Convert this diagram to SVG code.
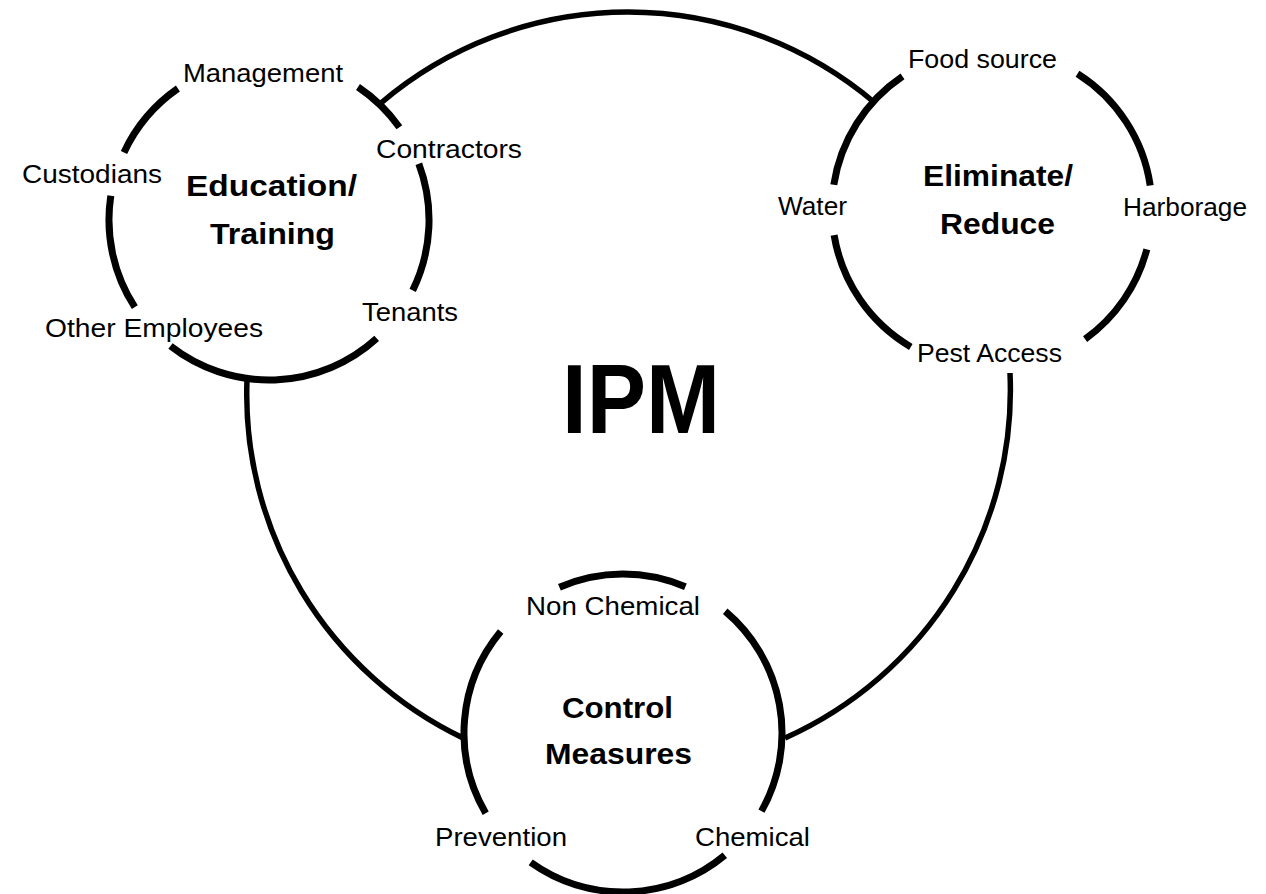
<svg xmlns="http://www.w3.org/2000/svg" width="1266" height="894" viewBox="0 0 1266 894">
  <style>
    .ring { fill: none; stroke: #000; stroke-width: 7; stroke-linecap: butt; }
    .link { fill: none; stroke: #000; stroke-width: 5.5; stroke-linecap: butt; }
    .item { font-family: "Liberation Sans", Arial, sans-serif; font-size: 26px; fill: #000; }
    .title { font-family: "Liberation Sans", Arial, sans-serif; font-size: 29px; font-weight: bold; fill: #000; }
    .main { font-family: "Liberation Sans", Arial, sans-serif; font-size: 98px; font-weight: bold; fill: #000; }
  </style>
  <rect width="1266" height="894" fill="#fff"/>

  <!-- outer IPM ring, drawn as three arcs between the groups -->
  <g id="connectors">
    <path class="link" d="M381,103 A381,381 0 0 1 875,103"/>
    <path class="link" d="M247,380 A381,381 0 0 0 463,738"/>
    <path class="link" d="M1010,373 A381,381 0 0 1 785,738"/>
  </g>

  <text class="main" x="562" y="433" textLength="158" lengthAdjust="spacingAndGlyphs">IPM</text>

  <!-- Education / Training -->
  <g id="education-training">
    <path class="ring" d="M124.0,152.4 A160,160 0 0 1 177.9,88.5"/>
    <path class="ring" d="M358.0,87.0 A160,160 0 0 1 399.4,127.3"/>
    <path class="ring" d="M418.8,163.7 A160,160 0 0 1 412.7,290.4"/>
    <path class="ring" d="M376.7,338.3 A160,160 0 0 1 170.5,346.1"/>
    <path class="ring" d="M134.8,307.1 A160,160 0 0 1 110.8,195.8"/>
    <text class="title" x="186" y="196" textLength="171" lengthAdjust="spacingAndGlyphs">Education/</text>
    <text class="title" x="210" y="244" textLength="125" lengthAdjust="spacingAndGlyphs">Training</text>
    <text class="item" x="183" y="82" textLength="160" lengthAdjust="spacingAndGlyphs">Management</text>
    <text class="item" x="22" y="183" textLength="140" lengthAdjust="spacingAndGlyphs">Custodians</text>
    <text class="item" x="376" y="158" textLength="146" lengthAdjust="spacingAndGlyphs">Contractors</text>
    <text class="item" x="362" y="321" textLength="96" lengthAdjust="spacingAndGlyphs">Tenants</text>
    <text class="item" x="45" y="337" textLength="218" lengthAdjust="spacingAndGlyphs">Other Employees</text>
  </g>

  <!-- Eliminate / Reduce -->
  <g id="eliminate-reduce">
    <path class="ring" d="M1077.5,73.8 A160,160 0 0 1 1150.2,185.4"/>
    <path class="ring" d="M1146.8,249.3 A160,160 0 0 1 1085.1,339.1"/>
    <path class="ring" d="M910.8,346.9 A160,160 0 0 1 834.1,235.1"/>
    <path class="ring" d="M833.8,184.8 A160,160 0 0 1 902.5,76.4"/>
    <text class="title" x="923" y="186" textLength="150" lengthAdjust="spacingAndGlyphs">Eliminate/</text>
    <text class="title" x="940" y="234" textLength="115" lengthAdjust="spacingAndGlyphs">Reduce</text>
    <text class="item" x="908" y="68" textLength="149" lengthAdjust="spacingAndGlyphs">Food source</text>
    <text class="item" x="778" y="215" textLength="69" lengthAdjust="spacingAndGlyphs">Water</text>
    <text class="item" x="1123" y="216" textLength="124" lengthAdjust="spacingAndGlyphs">Harborage</text>
    <text class="item" x="917" y="362" textLength="145" lengthAdjust="spacingAndGlyphs">Pest Access</text>
  </g>

  <!-- Control Measures -->
  <g id="control-measures">
    <path class="ring" d="M559.4,587.3 A159,159 0 0 1 685.4,586.8"/>
    <path class="ring" d="M725.2,611.2 A159,159 0 0 1 761.5,811.1"/>
    <path class="ring" d="M724.8,855.2 A159,159 0 0 1 530.7,862.4"/>
    <path class="ring" d="M485.7,813.2 A159,159 0 0 1 500.7,631.4"/>
    <text class="title" x="562" y="718" textLength="111" lengthAdjust="spacingAndGlyphs">Control</text>
    <text class="title" x="545" y="764" textLength="147" lengthAdjust="spacingAndGlyphs">Measures</text>
    <text class="item" x="526" y="615" textLength="174" lengthAdjust="spacingAndGlyphs">Non Chemical</text>
    <text class="item" x="435" y="846" textLength="132" lengthAdjust="spacingAndGlyphs">Prevention</text>
    <text class="item" x="695" y="846" textLength="115" lengthAdjust="spacingAndGlyphs">Chemical</text>
  </g>
</svg>
